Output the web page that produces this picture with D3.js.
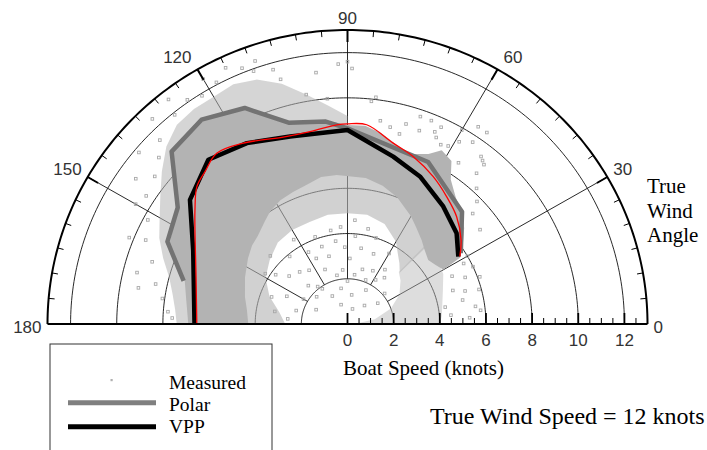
<!DOCTYPE html>
<html><head><meta charset="utf-8">
<script src="https://cdn.jsdelivr.net/npm/d3@7"></script>
<style>body{margin:0;background:#fff}svg{display:block}</style>
</head><body>
<svg id="chart" width="707" height="450"></svg>
<script>
// ---------- data ----------
const maxSpeed = 13;
const speedTicks = [0, 2, 4, 6, 8, 10, 12];
const ringSpeeds = [2, 4, 6, 8, 10, 12];
const angleTicks = [0, 30, 60, 90, 120, 150, 180];

// Polar (gray) : true wind angle (deg) / boat speed (knots)
const polarAngles = [32.5, 45, 64, 90, 96, 106, 115, 125, 135, 145, 155, 165];
const polarSpeeds = [5.82, 7.02, 7.97, 8.65, 9.0, 9.26, 10.54, 11.03, 10.78, 8.98, 8.61, 7.35];

// VPP (black)
const vppAngles = [31.8, 40.3, 51.4, 64.3, 75, 90, 106.7, 118.6, 129.7, 141.2, 154, 180];
const vppSpeeds = [5.65, 6.2, 6.65, 7.24, 7.66, 8.58, 8.66, 9.11, 9.44, 8.76, 7.44, 6.63];

// thin red curve
const fitAngles = [31.5, 37.1, 45.1, 52.6, 60.3, 68.9, 76.1, 84.6, 90, 93, 100.8, 108.6, 119.4, 126.9, 132.5, 137, 142.7, 162.3, 180];
const fitSpeeds = [5.71, 6.17, 6.70, 7.08, 7.50, 7.93, 8.24, 8.85, 8.85, 8.82, 8.66, 8.72, 9.18, 9.44, 9.14, 8.92, 8.31, 6.89, 6.53];

// Measured cloud: dense core (outer edge 180->31, inner edge 30->180)
const coreOuter = [[180,6.9],[172,7.05],[165,7.3],[160,7.9],[155,8.5],[150,8.7],[145,8.9],[140,9.85],[135,10.7],[130,10.9],[125,10.95],[120,10.8],[115,10.45],[110,9.7],[106,9.2],[100,9.1],[95,9.0],[90,8.8],[85,8.8],[80,8.55],[75,8.2],[70,8.0],[65,8.3],[62,8.7],[58,8.5],[55,7.8],[50,7.3],[45,7.0],[40,6.6],[35,6.1],[31,5.7]];
const coreInner = [[30,4.8],[35,4.6],[39,4.5],[45,4.7],[49,4.9],[55,5.2],[60,5.5],[69,6.0],[76,6.3],[83,6.5],[94,6.6],[100,6.6],[106,6.4],[112,6.3],[118,6.2],[124,6.0],[128,5.8],[135,5.5],[140,5.4],[146,5.2],[155,4.9],[165,4.6],[172,4.4],[180,4.3]];
// Measured cloud: speckled ring, upper part (outer 180->45, inner 45->180)
const ringOuter = [[180,4.6],[165,5.0],[150,5.4],[135,5.8],[120,6.4],[105,6.7],[90,6.8],[75,6.5],[60,5.8],[45,5.0]];
const ringInner = [[45,3.2],[50,3.5],[55,3.8],[60,4.2],[70,4.7],[80,4.9],[90,4.9],[100,4.9],[110,4.8],[120,4.8],[130,4.7],[140,4.4],[150,4.1],[160,3.6],[170,3.0],[180,2.7]];
// Measured cloud: speckled patch near the close-hauled side (outer 46->0, inner 0->46)
const lowOuter = [[46,5.0],[35,4.8],[28,4.7],[20,4.4],[12,4.2],[5,4.1],[0,4.0]];
const lowInner = [[0,0.3],[10,1.2],[20,2.0],[30,2.6],[40,3.0],[46,3.2]];
// Measured cloud: outer speckle halo (outer 180->90, inner 90->180)
const haloOuter = [[180,7.4],[175,7.5],[170,7.7],[165,8.0],[160,8.5],[155,9.0],[150,9.4],[145,9.9],[140,10.5],[135,11.1],[130,11.5],[125,11.6],[120,11.6],[115,11.7],[110,11.5],[105,11.0],[100,10.3],[95,9.7],[90,9.2]];
const haloInner = [[90,8.0],[120,8.0],[150,7.5],[180,6.6]];
// Measured scattered points (angle, speed)
const measuredPoints = [
 [100,1.6],[82,1.3],[62,1.7],[118,1.4],[138,1.8],[48,1.1],[72,0.7],[108,0.9],[155,1.5],[125,1.9],[90,1.9],
 [95,2.4],[88,2.9],[92,3.4],[85,3.9],[100,4.2],[105,3.1],[112,2.6],[118,3.6],[125,2.9],[130,3.9],[135,2.4],
 [140,3.3],[145,3.8],[155,2.9],[160,3.5],[165,2.3],[170,3.2],[150,2.2],[75,2.5],[70,3.3],[78,4.3],[65,2.6],
 [60,3.6],[56,2.9],[82,2.2],[110,4.1],[122,4.4],[98,3.7],[72,4.0],[115,3.2],[138,4.5],[175,2.6],[128,2.1],
 [86,4.6],[102,2.2],[148,4.2],[68,2.1],[80,3.4],[108,3.6],[132,3.1],[94,4.3],[58,2.3],[52,2.6],[40,2.1],[35,1.6],
 [5,4.5],[12,5.1],[8,5.6],[18,4.8],[22,5.5],[15,5.9],[25,5.0],[3,5.3],[28,5.7],[10,4.3],[6,5.8],[16,5.3],[20,6.1],
 [83,10.1],[84,9.9],[90,11.6],[89,11.3],[81,9.1],[78,8.9],[71,9.7],[68,9.7],[65,9.6],[65,9.1],[57,10.4],
 [54.5,10.4],[56,9.7],[52,9.4],[56,8.6],[50,9.2],[51,9.3],[50,8.7],[42,7.3],[36,7.1],[30,6.0],[25,6.0],
 [74,9.2],[61,9.0],[47,8.2],[44,7.8],[60,9.9],[63,8.9],[75,8.7],[66,9.3],[59,9.4],[70,9.1],
 [100,10.3],[105,11.2],[110,11.9],[112,12.2],[115,12.5],[118,12.1],[122,11.9],[125,12.1],[129,11.9],[133,12.4],
 [135,11.5],[138,11.0],[142,10.6],[147,10.4],[152,9.8],[157,9.5],[162,8.9],[168,8.5],[172,8.1],[176,7.8],
 [95,10.0],[92,11.5],[97,11.2],[106,11.7],[109,12.3],[120,12.5],[128,12.6],[140,11.8],[158,10.2],[170,9.2],
 [150,10.6],[145,11.2],[178,7.6],[166,9.4]
];

const legendItems = ["Measured", "Polar", "VPP"];

// ---------- drawing ----------
const svg = d3.select("#chart");
const xs = d3.scaleLinear().domain([-maxSpeed, maxSpeed]).range([47.5, 647.5]);
const ys = d3.scaleLinear().domain([0, maxSpeed]).range([324, 30]);
const rad = a => a * Math.PI / 180;
const P = (a, s) => [xs(s * Math.cos(rad(a))), ys(s * Math.sin(rad(a)))];
const line = d3.line();
const closed = d3.line().curve(d3.curveLinearClosed);
const smooth = d3.line().curve(d3.curveCatmullRom.alpha(0.5));
const arcPts = r => d3.range(0, 180.01, 1).map(a => P(a, r));

// grid rings
const grid = svg.append("g");
ringSpeeds.forEach(r => grid.append("path").attr("d", line(arcPts(r)))
  .attr("fill", "none").attr("stroke", "#111").attr("stroke-width", 0.9));
// radial lines
angleTicks.filter(a => a > 0 && a < 180).forEach(a => {
  const p0 = P(a, 2), p1 = P(a, maxSpeed);
  grid.append("line").attr("x1", p0[0]).attr("y1", p0[1]).attr("x2", p1[0]).attr("y2", p1[1])
    .attr("stroke", "#111").attr("stroke-width", 0.9);
});

// measured cloud
const cloud = svg.append("g");
const poly = (outer, inner) => closed(outer.concat(inner).map(d => P(d[0], d[1])));
cloud.append("path").attr("d", poly(haloOuter, haloInner)).attr("fill", "#b3b3b3").attr("opacity", 0.55);
cloud.append("path").attr("d", poly(ringOuter, ringInner)).attr("fill", "#b3b3b3").attr("opacity", 0.6);
cloud.append("path").attr("d", poly(lowOuter, lowInner)).attr("fill", "#b3b3b3").attr("opacity", 0.45);
cloud.append("path").attr("d", poly(coreOuter, coreInner)).attr("fill", "#b3b3b3");
cloud.selectAll("rect").data(measuredPoints).join("rect")
  .attr("x", d => P(d[0], d[1])[0] - 1.3).attr("y", d => P(d[0], d[1])[1] - 1.3)
  .attr("width", 2.6).attr("height", 2.6)
  .attr("fill", "none").attr("stroke", "#a8a8a8").attr("stroke-width", 0.9);

// series lines
svg.append("path").attr("d", line(polarAngles.map((a, i) => P(a, polarSpeeds[i]))))
  .attr("fill", "none").attr("stroke", "#737373").attr("stroke-width", 4.5).attr("stroke-linejoin", "round");
svg.append("path").attr("d", line(vppAngles.map((a, i) => P(a, vppSpeeds[i]))))
  .attr("fill", "none").attr("stroke", "#000").attr("stroke-width", 4.5).attr("stroke-linejoin", "round");
svg.append("path").attr("d", smooth(fitAngles.map((a, i) => P(a, fitSpeeds[i]))))
  .attr("fill", "none").attr("stroke", "#ff0000").attr("stroke-width", 1.3);

// axes
const axes = svg.append("g");
axes.append("path").attr("d", line(arcPts(maxSpeed))).attr("fill", "none").attr("stroke", "#000").attr("stroke-width", 2);
axes.append("line").attr("x1", xs(-maxSpeed)).attr("x2", xs(maxSpeed)).attr("y1", ys(0)).attr("y2", ys(0))
  .attr("stroke", "#000").attr("stroke-width", 2.2);
// angle ticks on outer arc (every 5 deg)
d3.range(5, 180, 5).forEach(a => {
  const major = a % 30 === 0;
  const len = major ? 12 : 6;
  const p0 = P(a, maxSpeed);
  const ux = Math.cos(rad(a)), uy = -Math.sin(rad(a));
  axes.append("line").attr("x1", p0[0]).attr("y1", p0[1])
    .attr("x2", p0[0] - ux * len).attr("y2", p0[1] - uy * len)
    .attr("stroke", "#000").attr("stroke-width", major ? 2 : 1);
});
// speed ticks on baseline (every 0.5 knot)
d3.range(0, maxSpeed, 0.5).forEach(s => {
  const major = speedTicks.includes(s);
  axes.append("line").attr("x1", xs(s)).attr("x2", xs(s)).attr("y1", ys(0)).attr("y2", ys(0) - (major ? 11 : 6))
    .attr("stroke", "#000").attr("stroke-width", major ? 1.8 : 1);
});

// tick labels
const sans = "'Liberation Sans', Arial, sans-serif";
const serif = "'Liberation Serif', 'Times New Roman', serif";
axes.selectAll("text.sp").data(speedTicks).join("text").attr("class", "sp")
  .attr("x", d => xs(d)).attr("y", 346).attr("text-anchor", "middle")
  .attr("font-family", sans).attr("font-size", 17).attr("fill", "#333").text(d => d);
const baseOff = d3.scaleLinear().domain([0, 30, 60, 90]).range([9, -2, -6, -6]);
axes.selectAll("text.ang").data(angleTicks).join("text").attr("class", "ang")
  .attr("x", d => P(d, maxSpeed)[0] + (d < 90 ? 6 : d > 90 ? -6 : 0))
  .attr("y", d => P(d, maxSpeed)[1] + baseOff(Math.min(d, 180 - d)))
  .attr("text-anchor", d => d < 90 ? "start" : d > 90 ? "end" : "middle")
  .attr("font-family", sans).attr("font-size", 17).attr("fill", "#333").text(d => d);

// titles
svg.append("text").attr("x", 343).attr("y", 375).attr("font-family", serif).attr("font-size", 21)
  .attr("fill", "#000").text("Boat Speed (knots)");
const twa = svg.append("text").attr("font-family", serif).attr("font-size", 21).attr("fill", "#000");
["True", "Wind", "Angle"].forEach((t, i) => twa.append("tspan").attr("x", 647).attr("y", 193 + i * 24.5).text(t));
svg.append("text").attr("x", 430).attr("y", 424).attr("font-family", serif).attr("font-size", 24)
  .attr("fill", "#000").text("True Wind Speed = 12 knots");

// legend
const lg = svg.append("g");
lg.append("rect").attr("x", 50).attr("y", 344).attr("width", 222).attr("height", 120)
  .attr("fill", "#fff").attr("stroke", "#333").attr("stroke-width", 1);
lg.append("rect").attr("x", 110.5).attr("y", 379).attr("width", 2.2).attr("height", 2.2).attr("fill", "#b0b0b0");
lg.append("line").attr("x1", 68).attr("x2", 156).attr("y1", 402.7).attr("y2", 402.7).attr("stroke", "#808080").attr("stroke-width", 5);
lg.append("line").attr("x1", 68).attr("x2", 156).attr("y1", 426.7).attr("y2", 426.7).attr("stroke", "#000").attr("stroke-width", 5);
lg.selectAll("text").data(legendItems).join("text")
  .attr("x", 169).attr("y", (d, i) => 388.5 + i * 22)
  .attr("font-family", serif).attr("font-size", 19.5).attr("fill", "#000").text(d => d);
</script>
</body></html>
